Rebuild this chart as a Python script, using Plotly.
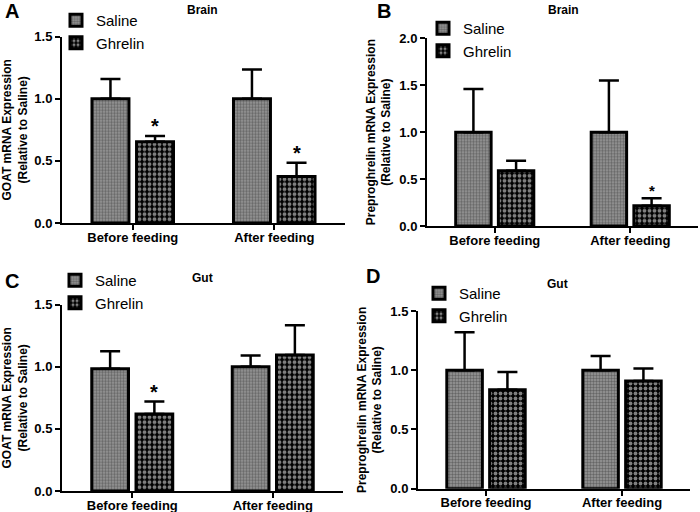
import plotly.graph_objects as go

categories = ["Before feeding", "After feeding"]
series_names = ["Saline", "Ghrelin"]

# Panel A: GOAT mRNA, Brain
a_saline = [1.0, 1.0]
a_saline_err = [0.16, 0.235]
a_ghrelin = [0.655, 0.375]
a_ghrelin_err = [0.045, 0.11]
a_sig = [True, True]

# Panel B: Preproghrelin mRNA, Brain
b_saline = [1.0, 1.0]
b_saline_err = [0.46, 0.55]
b_ghrelin = [0.59, 0.215]
b_ghrelin_err = [0.105, 0.08]
b_sig = [False, True]

# Panel C: GOAT mRNA, Gut
c_saline = [0.985, 1.0]
c_saline_err = [0.14, 0.09]
c_ghrelin = [0.62, 1.095]
c_ghrelin_err = [0.10, 0.24]
c_sig = [True, False]

# Panel D: Preproghrelin mRNA, Gut
d_saline = [1.0, 1.0]
d_saline_err = [0.32, 0.12]
d_ghrelin = [0.835, 0.91]
d_ghrelin_err = [0.15, 0.105]
d_sig = [False, False]

W, H = 700, 512
FONT = "Arial, Liberation Sans, sans-serif"
BARGAP = 0.37


def px_x(v):
    return v / W


def px_y(v):
    return 1 - v / H


panels = [
    dict(letter="A", title="Brain", ytitle="GOAT mRNA Expression<br>(Relative to Saline)",
         sal=a_saline, sal_err=a_saline_err, gh=a_ghrelin, gh_err=a_ghrelin_err, sig=a_sig,
         xdom=[62, 345], ydom=[223, 36.7], yrange=[0, 1.5],
         leg=(56, 4), titlepos=(202, 10), letterpos=(12, 11), starsize=20),
    dict(letter="B", title="Brain", ytitle="Preproghrelin mRNA Expression<br>(Relative to Saline)",
         sal=b_saline, sal_err=b_saline_err, gh=b_ghrelin, gh_err=b_ghrelin_err, sig=b_sig,
         xdom=[427, 698], ydom=[226, 38.3], yrange=[0, 2.0],
         leg=(423, 12), titlepos=(563, 10), letterpos=(384, 11), starsize=15),
    dict(letter="C", title="Gut", ytitle="GOAT mRNA Expression<br>(Relative to Saline)",
         sal=c_saline, sal_err=c_saline_err, gh=c_ghrelin, gh_err=c_ghrelin_err, sig=c_sig,
         xdom=[62, 343], ydom=[491, 304.7], yrange=[0, 1.5],
         leg=(55, 264), titlepos=(202, 278), letterpos=(12, 281), starsize=20),
    dict(letter="D", title="Gut", ytitle="Preproghrelin mRNA Expression<br>(Relative to Saline)",
         sal=d_saline, sal_err=d_saline_err, gh=d_ghrelin, gh_err=d_ghrelin_err, sig=d_sig,
         xdom=[418, 690], ydom=[488.7, 311], yrange=[0, 1.5],
         leg=(419, 277), titlepos=(557, 284), letterpos=(373, 276), starsize=20),
]

fig = go.Figure()
annotations = []
layout = dict(
    width=W, height=H, margin=dict(l=0, r=0, t=0, b=0, autoexpand=False),
    paper_bgcolor="white", plot_bgcolor="white",
    barmode="group", bargap=BARGAP, bargroupgap=0.17,
    font=dict(family=FONT, color="black"),
)

saline_marker = dict(color="#8c8c8c", line=dict(color="black", width=3),
                     pattern=dict(shape=".", fgcolor="#333333", bgcolor="#999999", size=3, solidity=0.5))
ghrelin_marker = dict(color="black", line=dict(color="black", width=3),
                      pattern=dict(shape=".", fgcolor="white", bgcolor="black", size=5, solidity=0.45))

for i, p in enumerate(panels):
    n = "" if i == 0 else str(i + 1)
    xa, ya = "x" + n, "y" + n
    leg = "legend" + n
    for name, vals, errs, mk in [("Saline", p["sal"], p["sal_err"], saline_marker),
                                 ("Ghrelin", p["gh"], p["gh_err"], ghrelin_marker)]:
        fig.add_trace(go.Bar(
            x=categories, y=vals, name=name, xaxis=xa, yaxis=ya, legend=leg,
            marker=mk,
            error_y=dict(type="data", array=errs, arrayminus=[0] * len(errs), symmetric=False,
                         color="black", thickness=2.5, width=10),
        ))
    x0, x1 = p["xdom"]
    yb, yt = p["ydom"]
    layout["xaxis" + n] = dict(
        domain=[px_x(x0), px_x(x1)], anchor=ya, showline=True, linecolor="black", linewidth=2,
        ticks="outside", ticklen=5, tickwidth=2, tickcolor="black", showgrid=False,
        automargin=False, ticklabelstandoff=-4,
        tickfont=dict(size=13, family=FONT, color="black", weight="bold"),
    )
    layout["yaxis" + n] = dict(
        domain=[px_y(yb), px_y(yt)], anchor=xa, range=p["yrange"], dtick=0.5,
        tickformat=".1f", showline=True, linecolor="black", linewidth=2,
        ticks="outside", ticklen=5, tickwidth=2, tickcolor="black", showgrid=False,
        zeroline=False, automargin=False,
        tickfont=dict(size=13, family=FONT, color="black", weight="bold"),
        title=dict(text=p["ytitle"], standoff=6,
                   font=dict(size=12, family=FONT, color="black", weight="bold")),
    )
    lx, ly = p["leg"]
    layout[leg] = dict(
        x=px_x(lx), y=px_y(ly), xanchor="left", yanchor="top",
        bgcolor="rgba(0,0,0,0)", font=dict(size=15, family=FONT, color="black"),
        itemwidth=30, tracegroupgap=0,
    )
    tx, ty = p["titlepos"]
    annotations.append(dict(text="<b>" + p["title"] + "</b>", x=px_x(tx), y=px_y(ty),
                            xref="paper", yref="paper", showarrow=False,
                            xanchor="center", yanchor="middle",
                            font=dict(size=12, family=FONT, color="black")))
    lx2, ly2 = p["letterpos"]
    annotations.append(dict(text="<b>" + p["letter"] + "</b>", x=px_x(lx2), y=px_y(ly2),
                            xref="paper", yref="paper", showarrow=False,
                            xanchor="center", yanchor="middle",
                            font=dict(size=20, family=FONT, color="black")))
    # significance stars above Ghrelin bars
    cat_px = (x1 - x0) / len(categories)
    offset_px = cat_px * (1 - BARGAP) / 4
    for cat, v, e, s in zip(categories, p["gh"], p["gh_err"], p["sig"]):
        if s:
            annotations.append(dict(text="<b>*</b>", x=cat, y=v + e, xref=xa, yref=ya,
                                    xshift=offset_px, yshift=-3, showarrow=False,
                                    xanchor="center", yanchor="bottom",
                                    font=dict(size=p["starsize"], family=FONT, color="black")))

layout["annotations"] = annotations
fig.update_layout(**layout)
# remove the browser's default page margin so the 700x512 figure fills the window exactly
fig.write_html("out.html", config={"displayModeBar": False},
               post_script="document.body.style.margin='0';document.body.style.overflow='hidden';")
